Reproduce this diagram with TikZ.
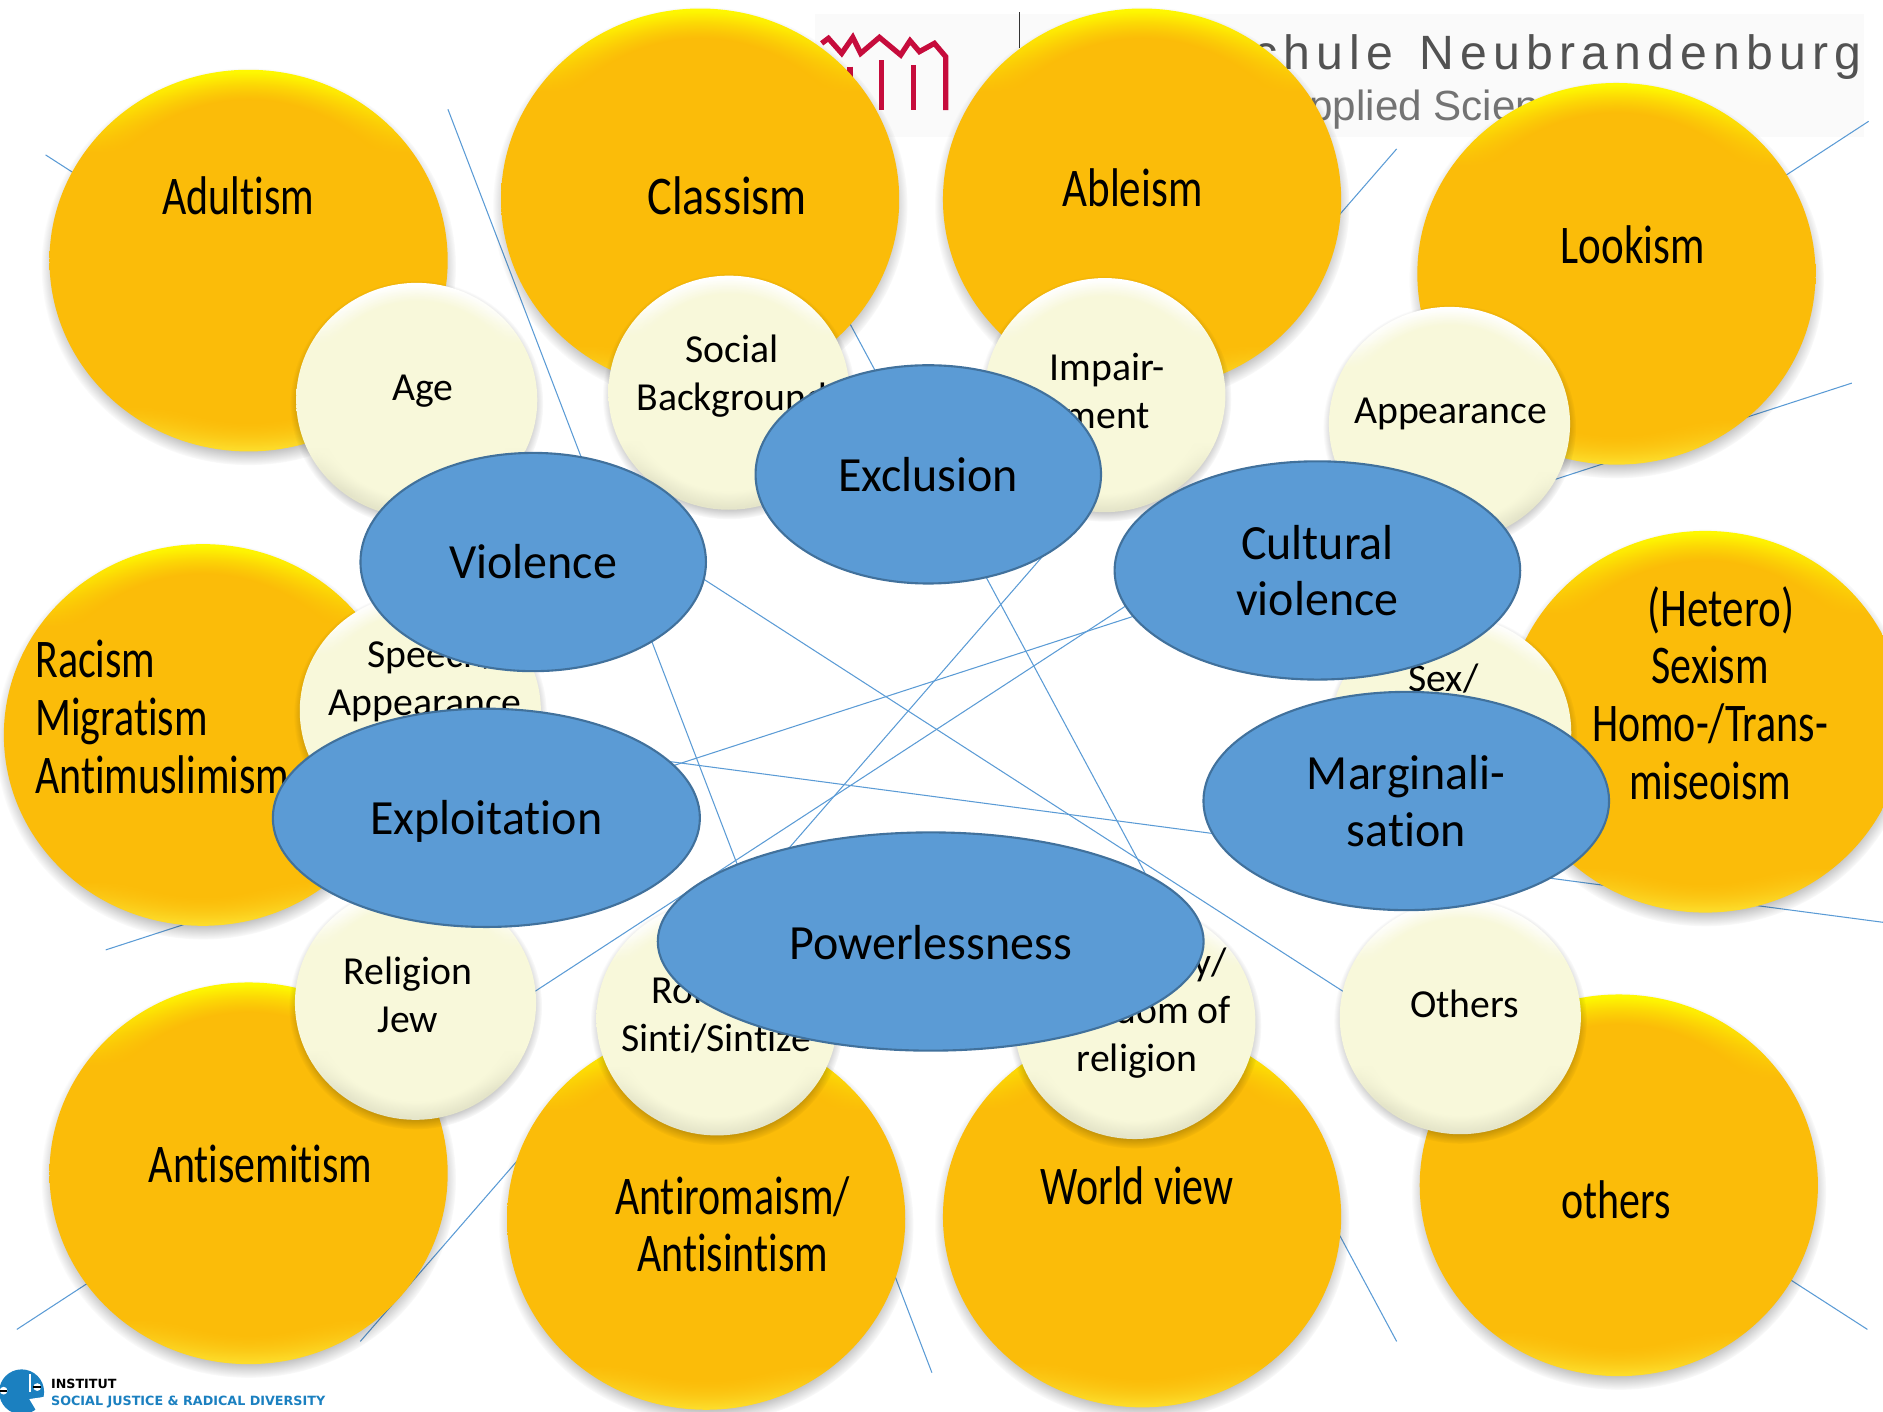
\documentclass[tikz,border=0pt]{standalone}
\usepackage{fontspec}
\usetikzlibrary{shapes.geometric,fadings}
\setmainfont[Ligatures=NoCommon]{Carlito}
\newfontfamily\narrowfont[FakeStretch=0.77,Ligatures=NoCommon]{Carlito}
\newfontfamily\narrowmid[FakeStretch=0.79,Ligatures=NoCommon]{Carlito}
\newfontfamily\narrowwide[FakeStretch=0.85,Ligatures=NoCommon]{Carlito}
\newfontfamily\bluefont[FakeStretch=0.975,Ligatures=NoCommon]{Carlito}
\newfontfamily\hsfont[LetterSpace=13,WordSpace=1.3]{Liberation Sans}
\newfontfamily\hsfontb{Liberation Sans}
\newfontfamily\instfont{DejaVu Sans}
\definecolor{linkblue}{HTML}{5B9BD5}
\definecolor{ovalblue}{HTML}{5B9BD5}
\definecolor{ovaledge}{HTML}{41719C}
\definecolor{amber}{HTML}{FBBC09}
\definecolor{creamc}{HTML}{F8F8DA}
\definecolor{hsred}{HTML}{C60C3C}
\definecolor{instblue}{HTML}{1B80C0}
\pgfdeclareverticalshading{amberbevel}{100bp}{color(0bp)=(amber); color(25bp)=(amber!60!yellow!85!white); color(31bp)=(amber); color(64bp)=(amber); color(69bp)=(amber!60!yellow); color(75bp)=(yellow!90!amber); color(100bp)=(yellow)}
\pgfdeclareverticalshading{creambevel}{100bp}{color(0bp)=(creamc); color(25bp)=(creamc!75!black!30!creamc); color(31bp)=(creamc!92!black); color(40bp)=(creamc); color(62bp)=(creamc); color(68bp)=(creamc!25!white); color(75bp)=(white); color(100bp)=(white)}
\pgfdeclareradialshading{softinnerS}{\pgfpoint{0bp}{0bp}}{color(0bp)=(white); color(21bp)=(white); color(24.5bp)=(black); color(50bp)=(black)}
\pgfdeclarefading{softinner}{\pgfuseshading{softinnerS}}
\pgfdeclareradialshading{softshadowS}{\pgfpoint{0bp}{0bp}}{color(0bp)=(white); color(22bp)=(white); color(25bp)=(black); color(50bp)=(black)}
\pgfdeclarefading{softshadow}{\pgfuseshading{softshadowS}}
\tikzset{
  link/.style={draw=linkblue,line width=0.3pt},
  amberball/.style={ellipse,minimum width=113.3pt,minimum height=108.6pt,inner sep=0pt,outer sep=0pt,shading=amberbevel},
  creamball/.style={ellipse,minimum width=68.6pt,minimum height=66.6pt,inner sep=0pt,outer sep=0pt,shading=creambevel},
  amberlabel/.style={font=\narrowfont\fontsize{15.5}{16.4}\selectfont,align=center,inner sep=0pt,text=black},
  creamlabel/.style={font=\fontsize{11.3}{13.66}\selectfont,align=center,inner sep=0pt,text=black},
  oval/.style={ellipse,fill=ovalblue,draw=ovaledge,line width=0.6pt,inner sep=0pt,outer sep=0pt,minimum height=62.1pt,align=center,font=\bluefont\fontsize{14}{16.1}\selectfont,text=black},
}
% name, x, y, label x, label y, text
\newcommand{\amberdisc}[6]{%
  \fill[black,opacity=.38,path fading=softshadow] (#2,#3+5) ellipse [x radius=59pt,y radius=56.5pt];
  \node[amberball] (#1) at (#2,#3) {};
  \fill[amber,path fading=softinner] (#1.center) ellipse [x radius=56.65pt,y radius=54.3pt];
  \node[amberlabel] (#1-text) at (#4,#5) {#6};
}
\newcommand{\creamdisc}[6]{%
  \fill[black,opacity=.30,path fading=softshadow] (#2,#3+3) ellipse [x radius=36pt,y radius=35pt];
  \node[creamball] (#1) at (#2,#3) {};
  \fill[creamc,path fading=softinner] (#1.center) ellipse [x radius=34.3pt,y radius=33.3pt];
  \node[creamlabel] (#1-text) at (#4,#5) {#6};
}
\begin{document}
\begin{tikzpicture}[x=0.012009cm,y=-0.012009cm]
\useasboundingbox (0,0) rectangle (1568,1175);
% top logo
\fill[fill=black!2] (679,12) rectangle (1552,114);
\draw[hsred,line width=1.5pt,line join=miter] (684.2,36.1) -- (689.8,31.9) -- (700.9,44.4) -- (710.1,31.1) -- (716.7,44.4) -- (732.3,31.1) -- (750,45.8) -- (757.8,33.9) -- (765.6,43) -- (778.1,36.1) -- (787.5,47.2) -- (787.5,91.6);
\draw[hsred,line width=1.5pt] (707.8,55.5) -- (707.8,91.6) (734.2,50) -- (734.2,91.6) (760.6,54) -- (760.6,91.6);
\coordinate (rulea) at (849,10); \coordinate (ruleb) at (849,40);
\draw[black!80,line width=0.4pt] (rulea) -- (ruleb);
\node[anchor=base east,inner sep=0pt,text=black!68,font=\hsfont\fontsize{13.7}{16}\selectfont] (hsname) at (1551,58) {Hochschule Neubrandenburg};
\node[anchor=base east,inner sep=0pt,text=black!55,font=\hsfontb\fontsize{12}{14}\selectfont] (hssub) at (1337,100.5) {University of Applied Sciences};
% connectors
\coordinate (la1) at (38,129);   \coordinate (lb1) at (1555,1107);
\coordinate (la2) at (373,91);   \coordinate (lb2) at (776,1143);
\coordinate (la3) at (708,270);  \coordinate (lb3) at (1163,1117);
\coordinate (la4) at (1163,124); \coordinate (lb4) at (300,1117);
\coordinate (la5) at (1556,101); \coordinate (lb5) at (14,1107);
\coordinate (la6) at (1542,319); \coordinate (lb6) at (88,791);
\coordinate (la7) at (1568,768); \coordinate (lb7) at (300,600);
\foreach \i in {1,...,7}{\draw[link] (la\i) -- (lb\i);}
% amber discs
\amberdisc{adultism}{207}{217}{198.5}{163}{Adultism}
\amberdisc{classism}{583}{166}{605.5}{163}{\narrowwide Classism}
\amberdisc{ableism}{951}{166}{943}{156}{\narrowmid Ableism}
\amberdisc{lookism}{1346}{228}{1359.5}{203.5}{\narrowmid Lookism}
\amberdisc{racism}{169}{612}{126}{597}{\parbox{66pt}{\raggedright Racism\\Migratism\\Antimuslimism}}
\amberdisc{sexism}{1420}{601}{1424}{577}{\narrowmid\hspace*{6.1pt}(Hetero)\\Sexism\hspace*{6pt}\\Homo-/Trans-\\miseoism}
\amberdisc{antisemitism}{207}{977}{217}{969.5}{Antisemitism}
\amberdisc{antiromaism}{588}{1015}{610}{1019.5}{Antiromaism/\\Antisintism}
\amberdisc{worldview}{951}{1013}{947}{987.5}{World view}
\amberdisc{others}{1348}{987}{1346}{999}{others}
% cream discs
\creamdisc{age}{347}{333}{352}{326}{Age}
\creamdisc{social}{607}{327}{609.5}{313}{Social\\Background}
\creamdisc{impairment}{920}{329}{922}{325.5}{Impair-\\ment}
\creamdisc{appearance}{1207}{353}{1208}{344.5}{Appearance}
\creamdisc{speech}{350}{592}{354}{567}{\hspace*{4.8pt}Speech/\\Appearance}
\creamdisc{sex}{1208}{610}{1202}{565}{Sex/}
\creamdisc{religionjew}{346}{835}{339.5}{828}{Religion\\Jew}
\creamdisc{roma}{597}{848}{596.5}{845}{Roma/\hspace*{6pt}\\Sinti/Sintize}
\creamdisc{freedom}{945}{851}{947}{844}{Spirituality/\hspace*{3pt}\\\hspace*{2pt}freedom of\\religion}
\creamdisc{otherscream}{1216}{847}{1219.5}{836}{Others}
% blue ovals
\node[oval,minimum width=98.3pt] (exclusion) at (773,395) {Exclusion};
\node[oval,minimum width=98.3pt] (violence) at (444,468) {Violence};
\node[oval,minimum width=115.4pt] (cultural) at (1097,475) {Cultural\\violence};
\node[oval,minimum width=115.4pt] (marginal) at (1171,667) {Marginali-\\sation};
\node[oval,minimum width=121.5pt] (exploitation) at (405,681) {\rule{0pt}{11.9pt}Exploitation};
\node[oval,minimum width=155.3pt] (powerless) at (775,784) {\rule{0pt}{10.4pt}Powerlessness};
% institute logo
\fill[instblue] (18,1159) circle (6.4pt);
\fill[white] (24.4,1165) -- (38,1163) -- (38,1176) -- (31,1176) -- cycle;
\fill[white] (24,1144) rectangle (25.6,1159);
\fill[white] (3,1158) circle (1.1pt);
\fill[black] (0,1157.2) rectangle (6.2,1158.8);
\fill[white] (31,1155) circle (1.1pt);
\fill[black] (27.8,1154.2) rectangle (34.2,1155.8);
\node[anchor=base west,inner sep=0pt,font=\instfont\bfseries\fontsize{3.6}{4}\selectfont,text=black] (instA) at (42,1156) {INSTITUT};
\node[anchor=base west,inner sep=0pt,font=\instfont\bfseries\fontsize{3.62}{4}\selectfont,text=instblue] (instB) at (42,1170) {SOCIAL JUSTICE \& RADICAL DIVERSITY};
\end{tikzpicture}
\end{document}
